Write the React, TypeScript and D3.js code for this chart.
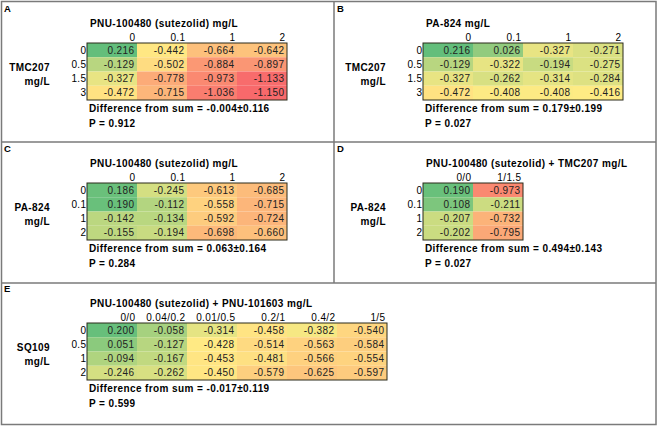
import React from "react";
import * as d3 from "d3";

// column / row labels and cell values
const A_COLS = ["0", "0.1", "1", "2"];
const A_ROWS = ["0", "0.5", "1.5", "3"];
const A_VALUES = [
  [0.216, -0.442, -0.664, -0.642],
  [-0.129, -0.502, -0.884, -0.897],
  [-0.327, -0.778, -0.973, -1.133],
  [-0.472, -0.715, -1.036, -1.15],
];

const B_COLS = ["0", "0.1", "1", "2"];
const B_ROWS = ["0", "0.5", "1.5", "3"];
const B_VALUES = [
  [0.216, 0.026, -0.327, -0.271],
  [-0.129, -0.322, -0.194, -0.275],
  [-0.327, -0.262, -0.314, -0.284],
  [-0.472, -0.408, -0.408, -0.416],
];

const C_COLS = ["0", "0.1", "1", "2"];
const C_ROWS = ["0", "0.1", "1", "2"];
const C_VALUES = [
  [0.186, -0.245, -0.613, -0.685],
  [0.19, -0.112, -0.558, -0.715],
  [-0.142, -0.134, -0.592, -0.724],
  [-0.155, -0.194, -0.698, -0.66],
];

const D_COLS = ["0/0", "1/1.5"];
const D_ROWS = ["0", "0.1", "1", "2"];
const D_VALUES = [
  [0.19, -0.973],
  [0.108, -0.211],
  [-0.207, -0.732],
  [-0.202, -0.795],
];

const E_COLS = ["0/0", "0.04/0.2", "0.01/0.5", "0.2/1", "0.4/2", "1/5"];
const E_ROWS = ["0", "0.5", "1", "2"];
const E_VALUES = [
  [0.2, -0.058, -0.314, -0.458, -0.382, -0.54],
  [0.051, -0.127, -0.428, -0.514, -0.563, -0.584],
  [-0.094, -0.167, -0.453, -0.481, -0.566, -0.554],
  [-0.246, -0.262, -0.45, -0.579, -0.625, -0.597],
];

const TITLES = [
  "PNU-100480 (sutezolid) mg/L",
  "PA-824 mg/L",
  "PNU-100480 (sutezolid) mg/L",
  "PNU-100480 (sutezolid) + TMC207 mg/L",
  "PNU-100480 (sutezolid) + PNU-101603 mg/L",
];
const Y_LABELS = ["TMC207", "TMC207", "PA-824", "PA-824", "SQ109"];
const DIFFS = ["-0.004±0.116", "0.179±0.199", "0.063±0.164", "0.494±0.143", "-0.017±0.119"];
const P_VALUES = ["0.912", "0.027", "0.284", "0.027", "0.599"];
const LETTERS = ["A", "B", "C", "D", "E"];

const W = 661;
const H = 429;
const FONT = "'Liberation Sans', Arial, sans-serif";
const COL_W = 50;
const ROW_H = 14.25;
const LS = 0.4; // the figure's text runs a bit wide

const fmt = d3
  .formatLocale({ decimal: ".", thousands: ",", grouping: [3], currency: ["", ""], minus: "-" })
  .format(".3f");

// excel style green - yellow - red scale, shared by all panels
const color = d3
  .scaleLinear<string>()
  .domain([-1.15, -0.42, 0.216])
  .range(["#F8696B", "#FFEB84", "#63BE7B"])
  .interpolate(d3.interpolateRgb);

const panels = [
  { cols: A_COLS, rows: A_ROWS, values: A_VALUES, ox: 0, oy: 0 },
  { cols: B_COLS, rows: B_ROWS, values: B_VALUES, ox: 336, oy: 0 },
  { cols: C_COLS, rows: C_ROWS, values: C_VALUES, ox: 0, oy: 140 },
  { cols: D_COLS, rows: D_ROWS, values: D_VALUES, ox: 336, oy: 140 },
  { cols: E_COLS, rows: E_ROWS, values: E_VALUES, ox: 0, oy: 280 },
].map((p, i) => ({
  ...p,
  title: TITLES[i],
  yLabel: Y_LABELS[i],
  diff: DIFFS[i],
  p: P_VALUES[i],
  letter: LETTERS[i],
}));

const GRID_X = 87;
const GRID_Y = 43;

function Panel({ panel }: { panel: (typeof panels)[number] }) {
  const x = d3
    .scaleBand()
    .domain(panel.cols)
    .range([GRID_X, GRID_X + COL_W * panel.cols.length]);
  const y = d3
    .scaleBand()
    .domain(panel.rows)
    .range([GRID_Y, GRID_Y + ROW_H * panel.rows.length]);
  const [x0, x1] = x.range();
  const [y0, y1] = y.range();

  return (
    <g transform={`translate(${panel.ox},${panel.oy})`} fontFamily={FONT} letterSpacing={LS}>
      <text x={panel.ox === 0 ? 4 : 1} y={12} fontSize={9.5} fontWeight="bold">
        {panel.letter}
      </text>
      <text x={x0 + 3} y={27} fontSize={10} fontWeight="bold">
        {panel.title}
      </text>
      {panel.cols.map((c) => (
        <text key={c} x={(x(c) as number) + x.bandwidth() - 1.5} y={41} fontSize={10} textAnchor="end">
          {c}
        </text>
      ))}
      {panel.rows.map((r) => (
        <text
          key={r}
          x={x0 - 0.5}
          y={(y(r) as number) + y.bandwidth() / 2 + 3.6}
          fontSize={10}
          textAnchor="end"
        >
          {r}
        </text>
      ))}
      <text x={x0 - 37} y={71} fontSize={10} fontWeight="bold" textAnchor="end">
        {panel.yLabel}
      </text>
      <text x={x0 - 37} y={85} fontSize={10} fontWeight="bold" textAnchor="end">
        mg/L
      </text>
      {panel.rows.map((r, ri) =>
        panel.cols.map((c, ci) => {
          const v = panel.values[ri][ci];
          return (
            <g key={`${r}-${c}`}>
              <rect
                x={x(c)}
                y={y(r)}
                width={x.bandwidth()}
                height={y.bandwidth()}
                fill={color(v)}
              />
              <text
                x={(x(c) as number) + x.bandwidth() - 2.5}
                y={(y(r) as number) + y.bandwidth() / 2 + 3.6}
                fontSize={10}
                textAnchor="end"
                fill="#222"
              >
                {fmt(v)}
              </text>
            </g>
          );
        })
      )}
      <rect x={x0} y={y0} width={x1 - x0} height={y1 - y0} fill="none" stroke="#2b2b1a" strokeWidth={1} />
      <text x={x0 + 2} y={112} fontSize={10} fontWeight="bold">
        Difference from sum = {panel.diff}
      </text>
      <text x={x0 + 2} y={127} fontSize={10} fontWeight="bold">
        P = {panel.p}
      </text>
    </g>
  );
}

export default function App() {
  return (
    <div style={{ position: "fixed", left: 0, top: 0, background: "#fff" }}>
      <svg width={W} height={H} style={{ display: "block" }}>
        <rect width={W} height={H} fill="#fff" />
        <g fill="none" stroke="#7a7a7a" strokeWidth={1.5}>
          <rect x={1.5} y={1.5} width={654.5} height={423} />
          <line x1={1.5} x2={656} y1={142} y2={142} />
          <line x1={1.5} x2={656} y1={283} y2={283} />
          <line x1={334} x2={334} y1={1.5} y2={283} />
        </g>
        {panels.map((p) => (
          <Panel key={p.letter} panel={p} />
        ))}
      </svg>
    </div>
  );
}
